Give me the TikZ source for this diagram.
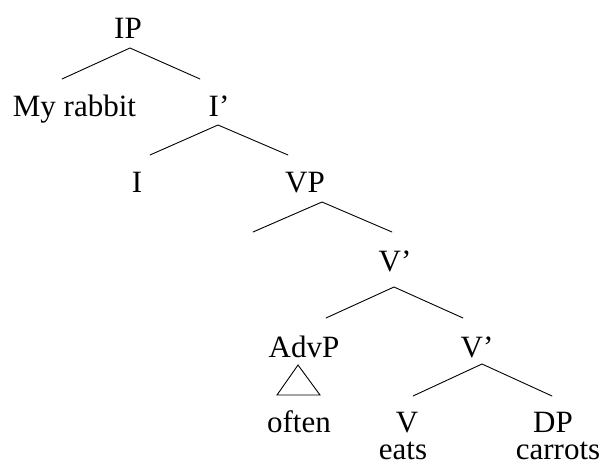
\documentclass[tikz,border=0pt]{standalone}
\usepackage{fontspec}
\setmainfont{Liberation Serif}
\begin{document}
\begin{tikzpicture}[x=1pt,y=-1pt,
  lbl/.style={anchor=base,inner sep=0pt,font=\fontsize{31}{36}\selectfont},
  branch/.style={line width=0.9pt,line cap=round}]
\useasboundingbox (0,0) rectangle (605,470);
% labels
\node[lbl] (IP) at (128,39) {IP};
\node[lbl] (MyRabbit) at (74.5,117) {My rabbit};
\node[lbl] (Ibar) at (219,117) {I'};
\node[lbl] (I) at (137,193) {I};
\node[lbl] (VP) at (305,193) {VP};
\node[lbl] (Vbar1) at (395,272) {V'};
\node[lbl] (AdvP) at (304,357) {AdvP};
\node[lbl] (Vbar2) at (477,357) {V'};
\node[lbl] (often) at (299,432) {often};
\node[lbl] (V) at (407,432) {V};
\node[lbl] (DP) at (553,432) {DP};
\node[lbl] (eats) at (403,459) {eats};
\node[lbl] (carrots) at (558,459) {carrots};
% branch points
\coordinate (IPa) at (130,48);
\coordinate (IPl) at (62,79);
\coordinate (IPr) at (200,79);
\coordinate (Ibara) at (218,125);
\coordinate (Ibarl) at (150,155);
\coordinate (Ibarr) at (288,155);
\coordinate (VPa) at (322,202);
\coordinate (VPl) at (253,232);
\coordinate (VPr) at (392,232);
\coordinate (Vbar1a) at (394,287);
\coordinate (Vbar1l) at (326,318);
\coordinate (Vbar1r) at (463,318);
\coordinate (Tria) at (298,365);
\coordinate (Tril) at (277,395);
\coordinate (Trir) at (320,395);
\coordinate (Vbar2a) at (482,364);
\coordinate (Vbar2l) at (413,396);
\coordinate (Vbar2r) at (552,396);
% branches
\draw[branch] (IPl) -- (IPa) -- (IPr);
\draw[branch] (Ibarl) -- (Ibara) -- (Ibarr);
\draw[branch] (VPl) -- (VPa) -- (VPr);
\draw[branch] (Vbar1l) -- (Vbar1a) -- (Vbar1r);
\draw[branch,line join=miter,line cap=butt] (Tria) -- (Tril) -- (Trir) -- cycle;
\draw[branch] (Vbar2l) -- (Vbar2a) -- (Vbar2r);
\end{tikzpicture}
\end{document}
